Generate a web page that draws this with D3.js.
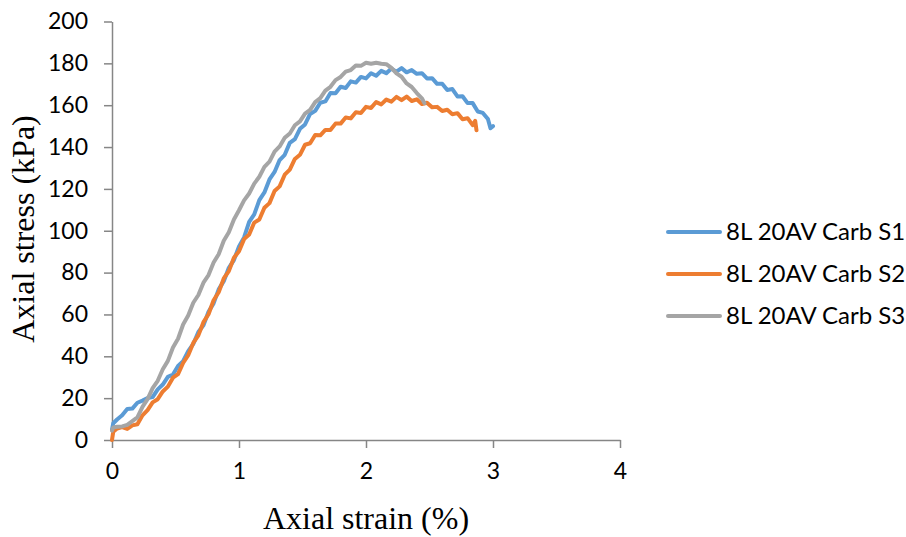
<!DOCTYPE html>
<html>
<head>
<meta charset="utf-8">
<script src="https://cdn.jsdelivr.net/npm/d3@7"></script>
<style>
  html, body { margin: 0; padding: 0; background: #ffffff; }
  svg { display: block; }
</style>
</head>
<body>
<svg id="chart" width="906" height="537"></svg>
<script>
// Axial stress–strain curves, three carbonated specimens
const seriesNames = ["8L 20AV Carb S1", "8L 20AV Carb S2", "8L 20AV Carb S3"];
const seriesColors = ["#5B9BD5", "#ED7D31", "#A5A5A5"];

const strainS1 = [0, 0.01, 0.04, 0.08, 0.12, 0.16, 0.20, 0.24, 0.28, 0.32, 0.36, 0.40, 0.44, 0.48, 0.52, 0.56, 0.60, 0.64, 0.68, 0.72, 0.76, 0.80, 0.84, 0.88, 0.92, 0.96, 1.00, 1.04, 1.08, 1.12, 1.16, 1.20, 1.24, 1.28, 1.32, 1.36, 1.40, 1.44, 1.48, 1.52, 1.56, 1.60, 1.64, 1.68, 1.72, 1.76, 1.80, 1.84, 1.88, 1.92, 1.96, 2.00, 2.04, 2.08, 2.12, 2.16, 2.20, 2.24, 2.28, 2.32, 2.36, 2.40, 2.44, 2.48, 2.52, 2.56, 2.60, 2.64, 2.68, 2.72, 2.76, 2.80, 2.84, 2.88, 2.92, 2.96, 2.98, 3.00];
const stressS1 = [5, 8, 9.8, 11.8, 14.8, 15, 17.8, 18.8, 20, 20.5, 24.2, 26.5, 30.2, 31.3, 35.4, 37.7, 42.5, 45.9, 51.6, 54.8, 61.3, 65.3, 72, 75.9, 82.3, 86, 92.5, 96.8, 104.2, 107.8, 114.6, 118.3, 124.5, 128.1, 133.8, 136.3, 142, 143.8, 148.7, 150.8, 155.8, 157.3, 161.2, 161.8, 165.8, 165.7, 168.8, 168.2, 171.4, 170.8, 173.5, 172.8, 175.3, 174.1, 176.4, 175.3, 177.5, 176, 177.7, 175.7, 176.8, 175, 175.3, 172.8, 172.9, 170.2, 170.3, 167.3, 167.7, 164.2, 164.3, 161, 161, 157, 156.3, 153.4, 149, 150];

const strainS2 = [0, 0.01, 0.04, 0.08, 0.12, 0.16, 0.20, 0.24, 0.28, 0.32, 0.36, 0.40, 0.44, 0.48, 0.52, 0.56, 0.60, 0.64, 0.68, 0.72, 0.76, 0.80, 0.84, 0.88, 0.92, 0.96, 1.00, 1.04, 1.08, 1.12, 1.16, 1.20, 1.24, 1.28, 1.32, 1.36, 1.40, 1.44, 1.48, 1.52, 1.56, 1.60, 1.64, 1.68, 1.72, 1.76, 1.80, 1.84, 1.88, 1.92, 1.96, 2.00, 2.04, 2.08, 2.12, 2.16, 2.20, 2.24, 2.28, 2.32, 2.36, 2.40, 2.44, 2.48, 2.52, 2.56, 2.60, 2.64, 2.68, 2.72, 2.76, 2.80, 2.84, 2.86, 2.87];
const stressS2 = [0, 4, 5.5, 6.2, 5.3, 7, 7.5, 11.8, 14.3, 18, 19.5, 23.2, 25.5, 29.8, 31.5, 36.8, 40.5, 46.4, 50, 56.3, 60.1, 66.8, 70.6, 77.2, 80.7, 87.1, 90.2, 96, 98.2, 103.9, 105.4, 111, 113.2, 119, 121.2, 126.8, 129.2, 134.3, 136.3, 141.1, 141.8, 145.8, 145.6, 148.2, 148.1, 151.2, 151.2, 154.1, 153.7, 156.6, 156.3, 159.2, 158.7, 161.5, 160.4, 162.7, 161.7, 164, 162.4, 164.1, 162, 162.8, 160.6, 161.2, 159, 159.2, 157.2, 157.8, 155.7, 156.2, 153.3, 153.8, 150.5, 152.5, 148];

const strainS3 = [0, 0.01, 0.04, 0.08, 0.12, 0.16, 0.20, 0.24, 0.28, 0.32, 0.36, 0.40, 0.44, 0.48, 0.52, 0.56, 0.60, 0.64, 0.68, 0.72, 0.76, 0.80, 0.84, 0.88, 0.92, 0.96, 1.00, 1.04, 1.08, 1.12, 1.16, 1.20, 1.24, 1.28, 1.32, 1.36, 1.40, 1.44, 1.48, 1.52, 1.56, 1.60, 1.64, 1.68, 1.72, 1.76, 1.80, 1.84, 1.88, 1.92, 1.96, 2.00, 2.04, 2.08, 2.12, 2.16, 2.20, 2.24, 2.28, 2.32, 2.36, 2.40, 2.44, 2.46];
const stressS3 = [4.5, 6, 6.3, 6.5, 7.2, 9, 10.8, 15.8, 19.5, 24.8, 28.3, 33.8, 37.8, 44.2, 48.4, 55.2, 59.5, 65.6, 69.3, 75.2, 78.8, 84.8, 88.8, 95.2, 99.3, 105.4, 109.8, 114.5, 117.8, 122.5, 125.8, 130.5, 133, 137.8, 140.3, 144.4, 146.5, 150.4, 152.3, 156, 157.8, 161.5, 163.4, 167, 168.8, 172, 173.5, 176, 176.8, 179, 178.8, 180.3, 179.8, 180.3, 179.8, 179.6, 177.8, 175.2, 173.6, 170.4, 168.7, 165.8, 163.3, 161];

const xTicks = [0, 1, 2, 3, 4];
const yTicks = [0, 20, 40, 60, 80, 100, 120, 140, 160, 180, 200];

const xTitle = "Axial strain (%)";
const yTitle = "Axial stress (kPa)";

const series = [
  { name: seriesNames[0], color: seriesColors[0], x: strainS1, y: stressS1 },
  { name: seriesNames[1], color: seriesColors[1], x: strainS2, y: stressS2 },
  { name: seriesNames[2], color: seriesColors[2], x: strainS3, y: stressS3 }
];

const svg = d3.select("#chart");
const axisColor = "#868686";
const tickFont = "Lato, 'Open Sans', sans-serif";
const titleFont = "'Liberation Serif', 'Times New Roman', serif";

const x = d3.scaleLinear().domain([0, 4]).range([112, 620]);
const y = d3.scaleLinear().domain([0, 200]).range([440, 21.5]);

// Axes
const xAxis = svg.append("g")
  .attr("transform", `translate(0,${y(0)})`)
  .call(d3.axisBottom(x).tickValues(xTicks).tickFormat(d3.format("d")).tickSizeInner(8).tickSizeOuter(0).tickPadding(15));
const yAxis = svg.append("g")
  .attr("transform", `translate(${x(0)},0)`)
  .call(d3.axisLeft(y).tickValues(yTicks).tickFormat(d3.format("d")).tickSizeInner(8).tickSizeOuter(0).tickPadding(16));

[xAxis, yAxis].forEach(g => {
  g.select(".domain").attr("stroke", axisColor).attr("stroke-width", 1.5);
  g.selectAll(".tick line").attr("stroke", axisColor).attr("stroke-width", 1.5);
  g.selectAll(".tick text")
    .attr("fill", "#000")
    .style("font-family", tickFont)
    .style("font-size", "23px");
});

// Curves
const line = d3.line()
  .x(d => x(d[0]))
  .y(d => y(d[1]));

series.forEach(s => {
  const pts = s.x.map((v, i) => [v, s.y[i]]);
  svg.append("path")
    .datum(pts)
    .attr("fill", "none")
    .attr("stroke", s.color)
    .attr("stroke-width", 4)
    .attr("stroke-linejoin", "round")
    .attr("stroke-linecap", "round")
    .attr("d", line);
});

// Axis titles
svg.append("text")
  .attr("x", 366)
  .attr("y", 529)
  .attr("text-anchor", "middle")
  .style("font-family", titleFont)
  .style("font-size", "32px")
  .attr("fill", "#000")
  .text(xTitle);

svg.append("text")
  .attr("transform", "translate(34,229) rotate(-90)")
  .attr("text-anchor", "middle")
  .style("font-family", titleFont)
  .style("font-size", "32px")
  .attr("fill", "#000")
  .text(yTitle);

// Legend
const legend = svg.append("g").attr("transform", "translate(668,232)");
series.forEach((s, i) => {
  const g = legend.append("g").attr("transform", `translate(0,${i * 42})`);
  g.append("line")
    .attr("x1", 0).attr("x2", 52)
    .attr("y1", 0).attr("y2", 0)
    .attr("stroke", s.color)
    .attr("stroke-width", 4)
    .attr("stroke-linecap", "round");
  g.append("text")
    .attr("x", 58)
    .attr("y", 0)
    .attr("dy", "0.35em")
    .style("font-family", tickFont)
    .style("font-size", "24px")
    .attr("fill", "#000")
    .text(s.name);
});
</script>
</body>
</html>
